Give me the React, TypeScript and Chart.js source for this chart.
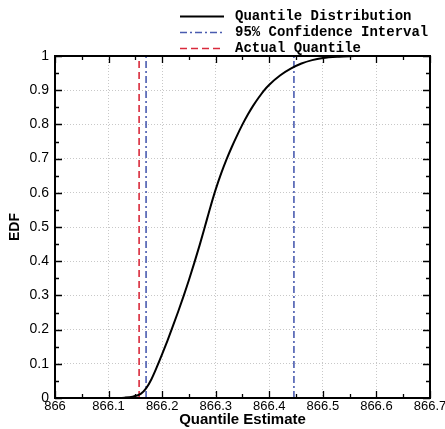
import React, { useEffect, useRef } from "react";
import { Chart, registerables } from "chart.js";

Chart.register(...registerables);

const distX = [866.11, 866.13, 866.145, 866.16, 866.17, 866.18, 866.19, 866.2, 866.21, 866.22, 866.23, 866.24, 866.25, 866.26, 866.27, 866.28, 866.29, 866.3, 866.31, 866.32, 866.33, 866.34, 866.35, 866.36, 866.37, 866.38, 866.39, 866.4, 866.42, 866.44, 866.46, 866.48, 866.5, 866.53, 866.56];
const distY = [0, 0.001, 0.004, 0.012, 0.028, 0.055, 0.09, 0.128, 0.168, 0.21, 0.253, 0.298, 0.345, 0.395, 0.447, 0.502, 0.558, 0.61, 0.656, 0.697, 0.734, 0.768, 0.8, 0.829, 0.855, 0.878, 0.899, 0.916, 0.943, 0.963, 0.978, 0.988, 0.994, 0.998, 1];
const ciBounds = [866.17, 866.446];
const actualQuantile = 866.157;
const xTicks = [866, 866.1, 866.2, 866.3, 866.4, 866.5, 866.6, 866.7];
const xTickLabels = ["866", "866.1", "866.2", "866.3", "866.4", "866.5", "866.6", "866.7"];
const yTicks = [0, 0.1, 0.2, 0.3, 0.4, 0.5, 0.6, 0.7, 0.8, 0.9, 1];
const yTickLabels = ["0", "0.1", "0.2", "0.3", "0.4", "0.5", "0.6", "0.7", "0.8", "0.9", "1"];
const seriesLabels = ["Quantile Distribution", "95% Confidence Interval", "Actual Quantile"];

const BLUE = "#4a5cb0";
const RED = "#d92a3c";

const frameAndTicks = {
  id: "frameAndTicks",
  afterDatasetsDraw(chart: any) {
    const { ctx, chartArea } = chart;
    const { left, right, top, bottom } = chartArea;
    const xs = chart.scales.x;
    const ys = chart.scales.y;
    ctx.save();
    ctx.strokeStyle = "#000";
    ctx.lineWidth = 1.3;
    ctx.setLineDash([]);
    const major = 7;
    const minor = 4;
    const drawX = (v: number, len: number) => {
      const p = Math.round(xs.getPixelForValue(v)) + 0.5;
      ctx.beginPath();
      ctx.moveTo(p, bottom);
      ctx.lineTo(p, bottom - len);
      ctx.moveTo(p, top);
      ctx.lineTo(p, top + len);
      ctx.stroke();
    };
    const drawY = (v: number, len: number) => {
      const p = Math.round(ys.getPixelForValue(v)) + 0.5;
      ctx.beginPath();
      ctx.moveTo(left, p);
      ctx.lineTo(left + len, p);
      ctx.moveTo(right, p);
      ctx.lineTo(right - len, p);
      ctx.stroke();
    };
    xTicks.forEach((v, i) => {
      drawX(v, major);
      if (i < xTicks.length - 1) drawX((v + xTicks[i + 1]) / 2, minor);
    });
    yTicks.forEach((v, i) => {
      drawY(v, major);
      if (i < yTicks.length - 1) drawY((v + yTicks[i + 1]) / 2, minor);
    });
    ctx.lineWidth = 2;
    ctx.strokeRect(left, top, right - left, bottom - top);
    ctx.restore();
  },
};

const customLegend = {
  id: "customLegend",
  afterDraw(chart: any) {
    const { ctx } = chart;
    ctx.save();
    ctx.font = "bold 14px 'Liberation Mono', 'Courier New', monospace";
    ctx.textBaseline = "middle";
    ctx.fillStyle = "#000";
    chart.data.datasets.forEach((ds: any, i: number) => {
      const y = 16 + i * 16;
      ctx.strokeStyle = ds.borderColor;
      ctx.lineWidth = ds.borderWidth;
      ctx.setLineDash(ds.borderDash || []);
      ctx.beginPath();
      ctx.moveTo(180, y + 0.5);
      ctx.lineTo(224, y + 0.5);
      ctx.stroke();
      ctx.setLineDash([]);
      ctx.fillText(ds.label, 235, y);
    });
    ctx.restore();
  },
};

export default function App() {
  const ref = useRef<HTMLCanvasElement | null>(null);
  useEffect(() => {
    if (!ref.current) return;
    const ciData: any[] = [];
    ciBounds.forEach((b, i) => {
      if (i > 0) ciData.push({ x: b, y: null });
      ciData.push({ x: b, y: 0 }, { x: b, y: 1 });
    });
    const chart = new Chart(ref.current, {
      type: "line",
      data: {
        datasets: [
          {
            label: seriesLabels[0],
            data: distX.map((x, i) => ({ x, y: distY[i] })),
            borderColor: "#000",
            borderWidth: 2,
            pointRadius: 0,
            cubicInterpolationMode: "monotone",
            fill: false,
            order: 0,
          },
          {
            label: seriesLabels[1],
            data: ciData,
            borderColor: BLUE,
            borderWidth: 1.6,
            borderDash: [7, 3, 2, 3],
            pointRadius: 0,
            spanGaps: false,
            fill: false,
            order: 1,
          },
          {
            label: seriesLabels[2],
            data: [
              { x: actualQuantile, y: 0 },
              { x: actualQuantile, y: 1 },
            ],
            borderColor: RED,
            borderWidth: 1.6,
            borderDash: [7, 4],
            pointRadius: 0,
            fill: false,
            order: 2,
          },
        ] as any,
      },
      options: {
        animation: false,
        responsive: false,
        maintainAspectRatio: false,
        layout: { padding: { top: 56, right: 15, left: 0, bottom: 0 } },
        plugins: { legend: { display: false }, tooltip: { enabled: false } },
        scales: {
          x: {
            type: "linear",
            min: 866,
            max: 866.7,
            afterBuildTicks: (s: any) => {
              s.ticks = xTicks.map((v) => ({ value: v }));
            },
            afterFit: (s: any) => {
              s.height = 31;
              s.paddingLeft = 0;
              s.paddingRight = 0;
            },
            ticks: {
              autoSkip: false,
              maxRotation: 0,
              padding: 1,
              color: "#000",
              font: { family: "'Liberation Sans', Arial, sans-serif", size: 13 },
              callback: (v: any) => {
                const i = xTicks.findIndex((t) => Math.abs(t - v) < 1e-6);
                return i >= 0 ? xTickLabels[i] : "";
              },
            },
            grid: { color: "#c8c8c8", lineWidth: 1, drawTicks: false },
            border: { display: false, dash: [1, 2] },
            title: {
              display: true,
              text: "Quantile Estimate",
              color: "#000",
              font: { family: "'Liberation Sans', Arial, sans-serif", size: 15, weight: "bold" },
              padding: { top: 0, bottom: 0 },
            },
          },
          y: {
            type: "linear",
            min: 0,
            max: 1,
            afterBuildTicks: (s: any) => {
              s.ticks = yTicks.map((v) => ({ value: v }));
            },
            afterFit: (s: any) => {
              s.width = 55;
            },
            ticks: {
              autoSkip: false,
              padding: 6,
              color: "#000",
              font: { family: "'Liberation Sans', Arial, sans-serif", size: 14 },
              callback: (v: any) => {
                const i = yTicks.findIndex((t) => Math.abs(t - v) < 1e-6);
                return i >= 0 ? yTickLabels[i] : "";
              },
            },
            grid: { color: "#c8c8c8", lineWidth: 1, drawTicks: false },
            border: { display: false, dash: [1, 2] },
            title: {
              display: true,
              text: "EDF",
              color: "#000",
              font: { family: "'Liberation Sans', Arial, sans-serif", size: 14, weight: "bold" },
              padding: { top: 7, bottom: 0 },
            },
          },
        },
      } as any,
      plugins: [frameAndTicks, customLegend],
    });
    return () => chart.destroy();
  }, []);
  return (
    <div style={{ position: "absolute", left: 0, top: 0, width: 445, height: 429 }}>
      <canvas ref={ref} width={445} height={429} />
    </div>
  );
}
